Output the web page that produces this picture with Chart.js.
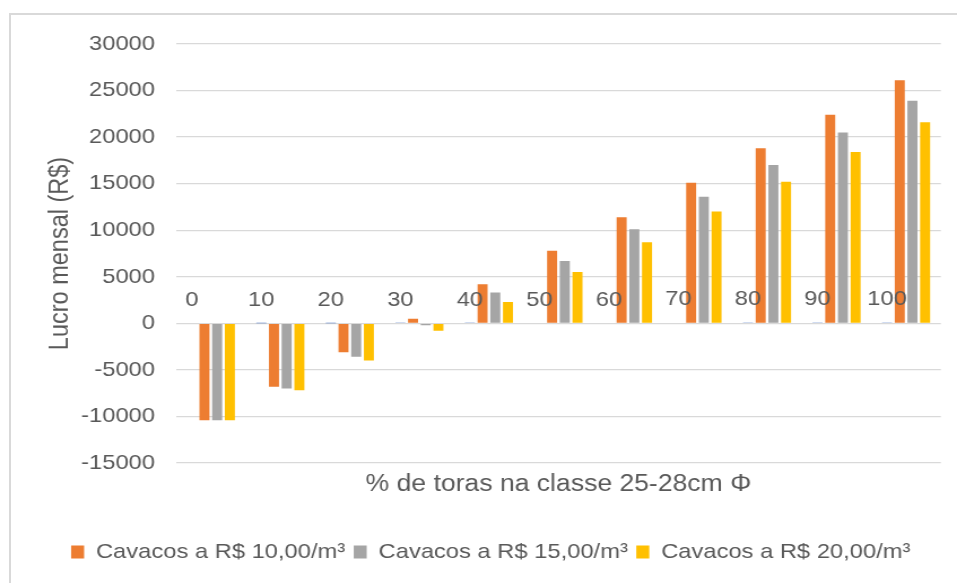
<!DOCTYPE html>
<html>
<head>
<meta charset="utf-8">
<script src="https://cdn.jsdelivr.net/npm/chart.js@4.4.0/dist/chart.umd.min.js"></script>
<style>
  html, body { margin: 0; padding: 0; background: #fff; overflow: hidden; }
  #frame { position: absolute; left: 9px; top: 13px; width: 1000px; height: 1000px; border: 2px solid #d9d9d9; }
  #chart { position: absolute; left: 0; top: 0; }
</style>
</head>
<body>
<div id="frame"></div>
<!-- the original picture is stretched a little sideways, so the canvas is drawn narrower and scaled up -->
<canvas id="chart" width="847" height="583" style="width:957px;height:583px"></canvas>
<script>
// ==========================
// Data
// ==========================
const categories = ["0", "10", "20", "30", "40", "50", "60", "70", "80", "90", "100"];
const pctValues = [0, 10, 20, 30, 40, 50, 60, 70, 80, 90, 100];
const lucro10 = [-10400, -6800, -3100, 500, 4200, 7800, 11400, 15100, 18800, 22400, 26100];
const lucro15 = [-10400, -7000, -3600, -200, 3300, 6700, 10100, 13600, 17000, 20500, 23900];
const lucro20 = [-10400, -7200, -4000, -800, 2300, 5500, 8700, 12000, 15200, 18400, 21600];
const seriesNames = ["Cavacos a R$ 10,00/m³", "Cavacos a R$ 15,00/m³", "Cavacos a R$ 20,00/m³"];
const yMin = -15000, yMax = 30000, yStep = 5000;

const FONT = '"Liberation Sans", Arial, sans-serif';
Chart.defaults.color = "#595959";
Chart.defaults.font.family = FONT;

// ==========================
// Percent labels above the tiny blue bars
// ==========================
const pctLabels = {
    id: "pctLabels",
    afterDatasetsDraw(chart) {
        const meta = chart.getDatasetMeta(0);
        const ctx = chart.ctx;
        ctx.save();
        ctx.font = "21px " + FONT;
        ctx.fillStyle = "#595959";
        ctx.textAlign = "center";
        ctx.textBaseline = "middle";
        meta.data.forEach((bar, i) => {
            ctx.fillText(String(pctValues[i]), bar.x, bar.y - 23);
        });
        ctx.restore();
    }
};

// nudge the legend row a bit to the right, like the original
const legendShift = {
    id: "legendShift",
    afterLayout(chart) {
        chart.legend.left += 8;
        chart.legend.right += 8;
    }
};

// ==========================
// Chart
// ==========================
const ctx = document.getElementById("chart").getContext("2d");
new Chart(ctx, {
    type: "bar",
    data: {
        labels: categories,
        datasets: [
            { label: "%", data: pctValues, backgroundColor: "#4472C4" },
            { label: seriesNames[0], data: lucro10, backgroundColor: "#ED7D31" },
            { label: seriesNames[1], data: lucro15, backgroundColor: "#A5A5A5" },
            { label: seriesNames[2], data: lucro20, backgroundColor: "#FFC000" }
        ]
    },
    options: {
        responsive: false,
        devicePixelRatio: 1,
        animation: false,
        categoryPercentage: 0.73,
        barPercentage: 0.79,
        layout: { padding: { left: 20, right: 14.3, top: 44, bottom: 10.5 } },
        plugins: {
            tooltip: { enabled: false },
            legend: {
                position: "bottom",
                labels: {
                    filter: item => item.datasetIndex !== 0,
                    boxWidth: 11.5,
                    boxHeight: 13,
                    padding: 7.5,
                    color: "#595959",
                    font: { size: 21, family: FONT }
                }
            }
        },
        scales: {
            x: {
                grid: { display: false },
                border: { display: false },
                ticks: { display: false },
                title: {
                    display: true,
                    text: "% de toras na classe 25-28cm Φ",
                    color: "#595959",
                    font: { size: 23.5, family: FONT },
                    padding: { top: 0, bottom: 35 }
                },
                afterFit: scale => { scale.height = 71; }
            },
            y: {
                min: yMin,
                max: yMax,
                grid: { color: "#d9d9d9", lineWidth: 1.3, drawTicks: false },
                border: { display: false },
                ticks: {
                    stepSize: yStep,
                    padding: 18.6,
                    color: "#595959",
                    font: { size: 21, family: FONT },
                    callback: v => String(v)
                },
                title: {
                    display: true,
                    text: "Lucro mensal (R$)",
                    color: "#595959",
                    font: { size: 23.5, family: FONT },
                    padding: { top: 19, bottom: 0 }
                },
                afterFit: scale => { scale.width = 135.8; }
            }
        }
    },
    plugins: [pctLabels, legendShift]
});
</script>
</body>
</html>
